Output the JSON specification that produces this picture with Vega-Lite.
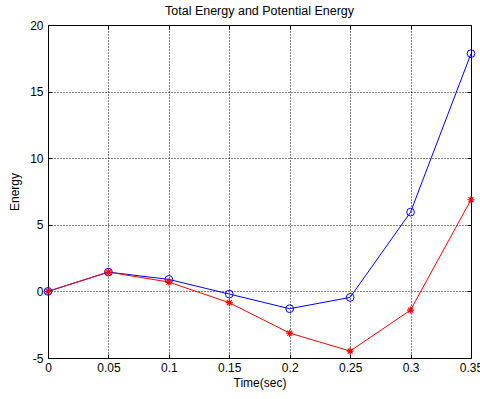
{
  "$schema": "https://vega.github.io/schema/vega-lite/v6.json",
  "width": 423,
  "height": 333,
  "autosize": {"type": "none"},
  "padding": {"left": 48, "top": 25, "right": 9, "bottom": 41},
  "background": "white",
  "title": {"text": "Total Energy and Potential Energy", "font": "Liberation Sans", "fontSize": 12.5, "fontWeight": "normal", "color": "#000000", "offset": 2, "anchor": "middle"},
  "config": {
    "view": {"stroke": "#000000", "strokeWidth": 1},
    "axis": {
      "labelFont": "Liberation Sans", "labelFontSize": 12, "labelColor": "#000000",
      "titleFont": "Liberation Sans", "titleFontSize": 12, "titleColor": "#000000", "titleFontWeight": "normal",
      "domainColor": "#000000", "tickColor": "#000000", "tickSize": -4,
      "gridColor": "#000000", "gridDash": [1, 2], "gridOpacity": 1, "gridWidth": 1,
      "labelFlush": false, "labelOverlap": false
    }
  },
  "data": {"values": [
    {"t": 0, "E": 0, "s": "Total"},
    {"t": 0.05, "E": 1.45, "s": "Total"},
    {"t": 0.1, "E": 0.9, "s": "Total"},
    {"t": 0.15, "E": -0.2, "s": "Total"},
    {"t": 0.2, "E": -1.3, "s": "Total"},
    {"t": 0.25, "E": -0.45, "s": "Total"},
    {"t": 0.3, "E": 5.95, "s": "Total"},
    {"t": 0.35, "E": 17.85, "s": "Total"},
    {"t": 0, "E": 0, "s": "Potential"},
    {"t": 0.05, "E": 1.45, "s": "Potential"},
    {"t": 0.1, "E": 0.7, "s": "Potential"},
    {"t": 0.15, "E": -0.85, "s": "Potential"},
    {"t": 0.2, "E": -3.13, "s": "Potential"},
    {"t": 0.25, "E": -4.48, "s": "Potential"},
    {"t": 0.3, "E": -1.4, "s": "Potential"},
    {"t": 0.35, "E": 6.88, "s": "Potential"}
  ]},
  "layer": [
    {
      "mark": {"type": "point", "opacity": 0},
      "encoding": {
        "x": {"field": "t", "type": "quantitative", "scale": {"domain": [0, 0.35], "nice": false, "zero": false},
          "axis": {"orient": "top", "labels": false, "title": null, "grid": false, "domain": false, "values": [0, 0.05, 0.1, 0.15, 0.2, 0.25, 0.3, 0.35]}},
        "y": {"field": "E", "type": "quantitative", "scale": {"domain": [-5, 20], "nice": false, "zero": false},
          "axis": {"orient": "right", "labels": false, "title": null, "grid": false, "domain": false, "values": [-5, 0, 5, 10, 15, 20]}}
      }
    },
    {
      "mark": {"type": "line", "strokeWidth": 1},
      "encoding": {
        "x": {"field": "t", "type": "quantitative",
          "axis": {"orient": "bottom", "title": "Time(sec)", "values": [0, 0.05, 0.1, 0.15, 0.2, 0.25, 0.3, 0.35], "format": "~g", "grid": true, "labelPadding": 8, "titlePadding": 4}},
        "y": {"field": "E", "type": "quantitative",
          "axis": {"orient": "left", "title": "Energy", "values": [-5, 0, 5, 10, 15, 20], "labelExpr": "'' + datum.value", "grid": true, "labelPadding": 9, "titlePadding": 8}},
        "color": {"field": "s", "type": "nominal", "scale": {"domain": ["Total", "Potential"], "range": ["#0000ff", "#ff0000"]}, "legend": null},
        "order": {"field": "t", "type": "quantitative"}
      }
    },
    {
      "transform": [{"filter": "datum.s === 'Total'"}],
      "mark": {"type": "point", "shape": "circle", "filled": false, "size": 60, "strokeWidth": 1, "color": "#0000ff", "opacity": 1},
      "encoding": {
        "x": {"field": "t", "type": "quantitative", "axis": null},
        "y": {"field": "E", "type": "quantitative", "axis": null}
      }
    },
    {
      "transform": [{"filter": "datum.s === 'Potential'"}],
      "mark": {"type": "point", "shape": "M-1,0L1,0M0,-1L0,1M-0.7,-0.7L0.7,0.7M-0.7,0.7L0.7,-0.7", "filled": false, "size": 50, "strokeWidth": 1.2, "color": "#ff0000", "opacity": 1},
      "encoding": {
        "x": {"field": "t", "type": "quantitative", "axis": null},
        "y": {"field": "E", "type": "quantitative", "axis": null}
      }
    }
  ],
  "resolve": {"axis": {"x": "independent", "y": "independent"}}
}
